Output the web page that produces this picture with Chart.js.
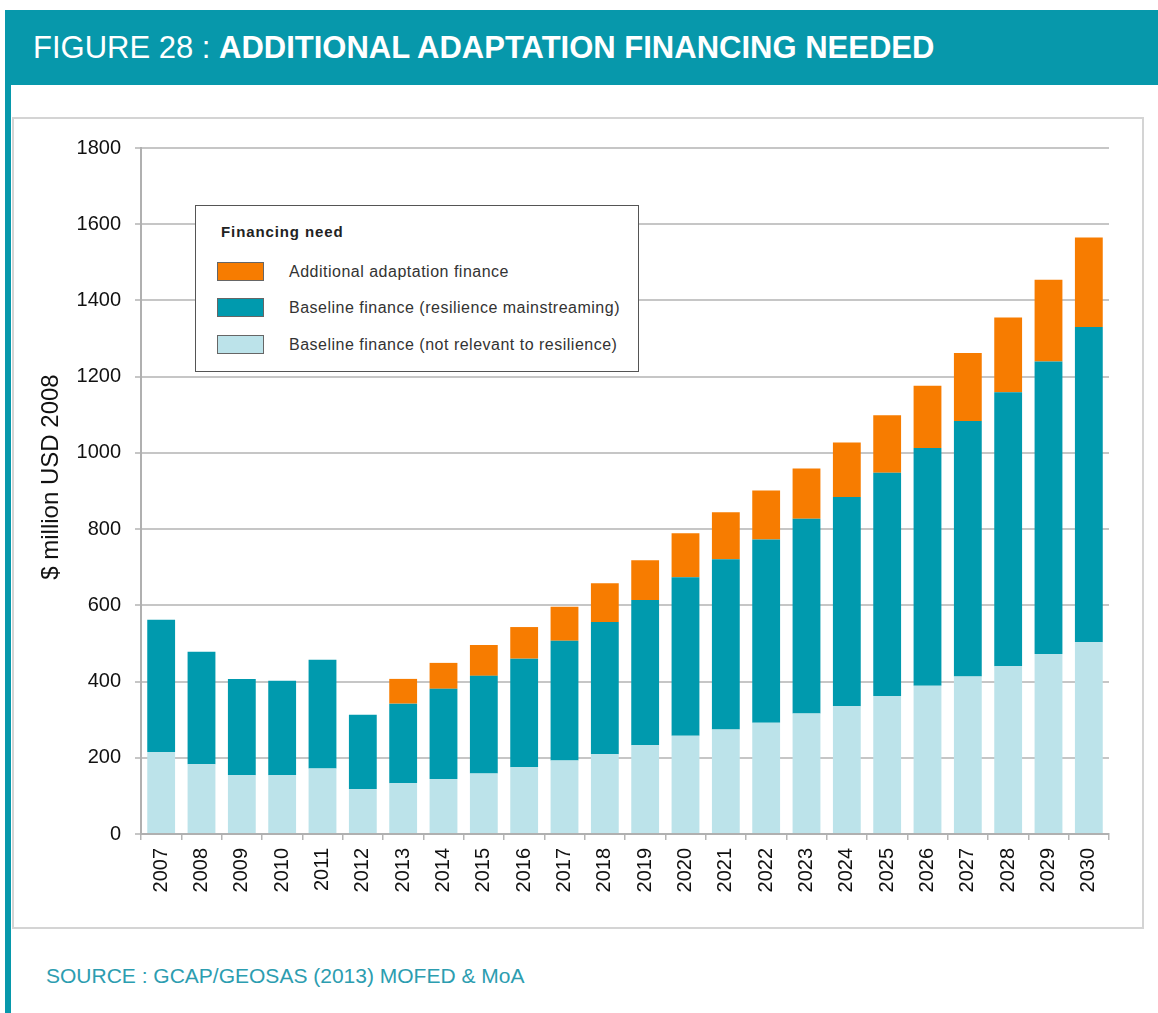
<!DOCTYPE html>
<html>
<head>
<meta charset="utf-8">
<script src="https://cdn.jsdelivr.net/npm/chart.js@4"></script>
<style>
    body { margin: 0; width: 1158px; height: 1013px; background: #fff; position: relative; overflow: hidden; font-family: "Liberation Sans", Arial, sans-serif; }
    .Figure__band { position: absolute; left: 5px; top: 10px; right: 0; height: 75px; background: #0798ab; }
    .Figure__band-title { position: absolute; left: 28px; top: 20px; color: #fff; font-size: 31px; line-height: 36px; white-space: nowrap; }
    .Figure__band-title b { font-weight: bold; }
    .Figure__stripe { position: absolute; left: 5px; top: 85px; width: 6px; bottom: 0; background: #0798ab; }
    .Figure__frame { position: absolute; left: 12px; top: 117px; width: 1132px; height: 812px; border: 2px solid #d4d4d4; box-sizing: border-box; background: #fff; }
    .Figure__frame canvas { position: absolute; left: 0; top: 0; }
    .Figure__axis-title { position: absolute; left: 36px; top: 344px; width: 240px; margin-left: -120px; text-align: center; font-size: 24px; line-height: 28px; color: #111; white-space: nowrap; transform: rotate(-90deg); }
    .Figure__legend { position: absolute; left: 181px; top: 86px; width: 444px; height: 167px; background: #fff; border: 1.5px solid #555; box-sizing: border-box; }
    .Figure__legend-title { position: absolute; left: 25px; top: 17px; font-size: 15px; font-weight: bold; color: #222; letter-spacing: 0.9px; }
    .Figure__legend-item { position: absolute; left: 21px; height: 19px; font-size: 16px; color: #333; }
    .Figure__legend-item i { position: absolute; left: 0; top: 0; width: 47px; height: 19px; border: 1.5px solid #666; box-sizing: border-box; }
    .Figure__legend-item span { position: absolute; left: 72px; top: 0; line-height: 19px; white-space: nowrap; letter-spacing: 0.5px; }
    .Figure__source { position: absolute; left: 46px; top: 964px; font-size: 21px; color: #2c9db0; white-space: nowrap; }
</style>
</head>
<body>
<div class="Figure__band">
    <div class="Figure__band-title">FIGURE 28 : <b>ADDITIONAL ADAPTATION FINANCING NEEDED</b></div>
</div>
<div class="Figure__stripe"></div>
<div class="Figure__frame">
    <canvas id="chart" width="1128" height="808"></canvas>
    <div class="Figure__axis-title">$ million USD 2008</div>
    <div class="Figure__legend" id="legend"></div>
</div>
<div class="Figure__source">SOURCE : GCAP/GEOSAS (2013) MOFED &amp; MoA</div>

<script>
const years = ['2007', '2008', '2009', '2010', '2011', '2012', '2013', '2014', '2015', '2016', '2017', '2018',
    '2019', '2020', '2021', '2022', '2023', '2024', '2025', '2026', '2027', '2028', '2029', '2030']

// $ million USD 2008, one value per year, bottom segment first
const notRelevant = [215, 183, 154, 154, 172, 118, 133, 144, 159, 175, 193, 209,
    233, 258, 274, 292, 316, 335, 362, 389, 413, 440, 472, 503]
const mainstreaming = [347, 295, 253, 248, 285, 195, 209, 237, 256, 285, 314, 347,
    381, 416, 447, 481, 511, 549, 586, 624, 671, 719, 768, 827]
const additional = [0, 0, 0, 0, 0, 0, 65, 68, 81, 83, 89, 102,
    104, 115, 123, 128, 132, 143, 151, 163, 178, 196, 214, 235]

const yTicks = [0, 200, 400, 600, 800, 1000, 1200, 1400, 1600, 1800]

const seriesNames = [
    'Baseline finance (not relevant to resilience)',
    'Baseline finance (resilience mainstreaming)',
    'Additional adaptation finance'
]
const seriesColors = ['#bce3ea', '#009aae', '#f77c00']

const font = '"Liberation Sans", Arial, sans-serif'

const chart = new Chart(document.getElementById('chart'), {
    type: 'bar',
    data: {
        labels: years,
        datasets: [notRelevant, mainstreaming, additional].map((values, i) => ({
            label: seriesNames[i],
            data: values,
            backgroundColor: seriesColors[i],
            borderWidth: 0,
            barPercentage: 0.69,
            categoryPercentage: 1
        }))
    },
    options: {
        responsive: false,
        animation: false,
        layout: { padding: { top: 29, right: 33, bottom: 12, left: 0 } },
        plugins: { legend: { display: false }, tooltip: { enabled: false } },
        scales: {
            x: {
                stacked: true,
                grid: { offset: true, drawOnChartArea: false, drawTicks: true, tickLength: 6, color: '#b5b5b5', lineWidth: 1.5 },
                border: { color: '#b0b0b0', width: 2 },
                ticks: { minRotation: 90, maxRotation: 90, padding: 8, color: '#111', font: { family: font, size: 20 } },
                afterFit: scale => { scale.height = 81 }
            },
            y: {
                stacked: true,
                min: 0,
                max: 1800,
                afterBuildTicks: scale => { scale.ticks = yTicks.map(v => ({ value: v })) },
                grid: { color: '#c6c6c6', lineWidth: 2, tickLength: 6 },
                border: { color: '#b0b0b0', width: 2 },
                ticks: { padding: 14, color: '#111', font: { family: font, size: 20 }, callback: v => String(v) },
                afterFit: scale => { scale.width = 127 }
            }
        }
    }
})

// legend lists the series top segment first
const legend = document.getElementById('legend')
let rows = `<div class="Figure__legend-title">Financing need</div>`
const rowTops = [56, 92, 129]
chart.data.datasets.slice().reverse().forEach((ds, i) => {
    rows += `
        <div class="Figure__legend-item" style="top: ${rowTops[i]}px">
            <i style="background: ${ds.backgroundColor}"></i>
            <span>${ds.label}</span>
        </div>`
})
legend.innerHTML = rows
</script>
</body>
</html>
